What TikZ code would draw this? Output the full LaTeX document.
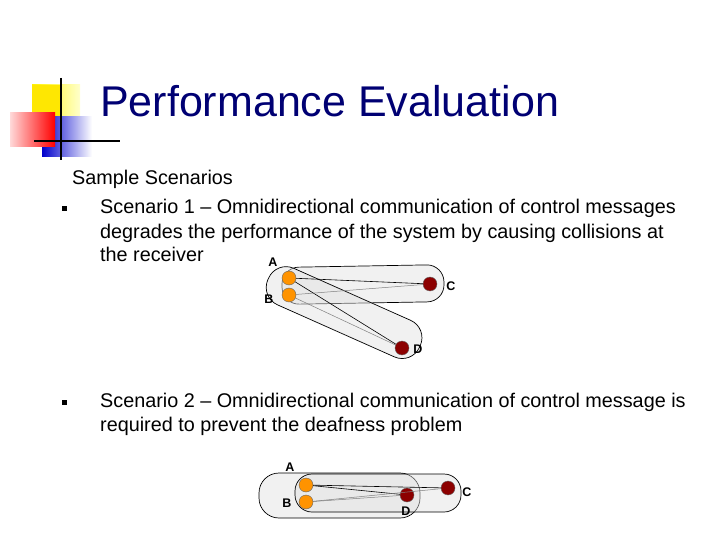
\documentclass[tikz,border=0pt]{standalone}
\usepackage{fontspec}
\setmainfont{Liberation Sans}
\begin{document}
\begin{tikzpicture}[x=1pt,y=-1pt,
  txt/.style={anchor=base west,inner sep=0pt,font=\fontsize{19.8}{23}\selectfont},
  lbl/.style={inner sep=0pt,font=\bfseries\fontsize{12.5}{14}\selectfont},
  src/.style={circle,draw=black!60,fill=orange!85!yellow,minimum size=14pt,inner sep=0pt},
  dst/.style={circle,draw=black!60,fill=red!55!black,minimum size=14pt,inner sep=0pt},
  hull/.style={draw=black,fill=gray!25,fill opacity=0.45,line width=0.7pt},
  dk/.style={black,line width=0.6pt},
  lt/.style={gray,line width=0.5pt},
  bul/.style={fill=black,minimum size=5pt,inner sep=0pt}]
\useasboundingbox (0,0) rectangle (720,540);
% logo
\shade[left color=yellow!90!orange,right color=yellow!20] (32,85) rectangle (80,117);
\fill[yellow!90!orange] (32,85) rectangle (62,117);
\shade[left color=blue!80!black,right color=white] (42,117) rectangle (92,157);
\shade[left color=red!15,right color=red] (10,113) rectangle (55,147);
\draw[line width=2pt] (61,78) -- (61,160);
\draw[line width=1.5pt] (34,141) -- (120,141);
\node[anchor=base west,inner sep=0pt,text=blue!45!black,font=\fontsize{43}{48}\selectfont] (title) at (100,117) {Performance Evaluation};
% text
\node[txt] (ss) at (72,185) {Sample Scenarios};
\node[bul] (b1) at (64,209) {};
\node[txt] (s1a) at (100,214) {Scenario 1 -- Omnidirectional communication of control messages};
\node[txt] (s1b) at (100,238) {degrades the performance of the system by causing collisions at};
\node[txt] (s1c) at (100,261) {the receiver};
\node[bul] (b2) at (64,402) {};
\node[txt] (s2a) at (100,407) {Scenario 2 -- Omnidirectional communication of control message is};
\node[txt] (s2b) at (100,431) {required to prevent the deafness problem};
% diagram 1
\begin{scope}[shift={(364,285)},rotate=1]
\draw[hull,rounded corners=17pt] (-82,-19) rectangle (80,18);
\end{scope}
\begin{scope}[shift={(345,313)},rotate=-24]
\draw[hull,rounded corners=19pt] (-84,-20) rectangle (82,20);
\end{scope}
\node[src] (A1) at (289,278) {};
\node[src] (B1) at (289,295) {};
\node[dst] (C1) at (430,284) {};
\node[dst] (D1) at (402,348) {};
\draw[dk] (A1) -- (C1); \draw[dk] (A1) -- (D1);
\draw[lt] (B1) -- (C1); \draw[lt] (B1) -- (D1);
\node[lbl] (la1) at (273,262) {A};
\node[lbl] (lb1) at (269,299) {B};
\node[lbl] (lc1) at (451,286) {C};
\node[lbl] (ld1) at (418,349) {D};
% diagram 2
\begin{scope}[shift={(340,495)}]
\draw[hull,rounded corners=20pt] (-81,-22) rectangle (80,23);
\end{scope}
\begin{scope}[shift={(378,493)}]
\draw[hull,rounded corners=17pt] (-83,-19) rectangle (83,19);
\end{scope}
\node[src] (A2) at (306,485) {};
\node[src] (B2) at (306,502) {};
\node[dst] (D2) at (407,495) {};
\node[dst] (C2) at (448,488) {};
\draw[dk] (A2) -- (C2); \draw[dk] (A2) -- (D2);
\draw[lt] (B2) -- (C2); \draw[lt] (B2) -- (D2);
\node[lbl] (la2) at (290,467) {A};
\node[lbl] (lb2) at (287,503) {B};
\node[lbl] (lc2) at (467,492) {C};
\node[lbl] (ld2) at (406,511) {D};
\end{tikzpicture}
\end{document}
